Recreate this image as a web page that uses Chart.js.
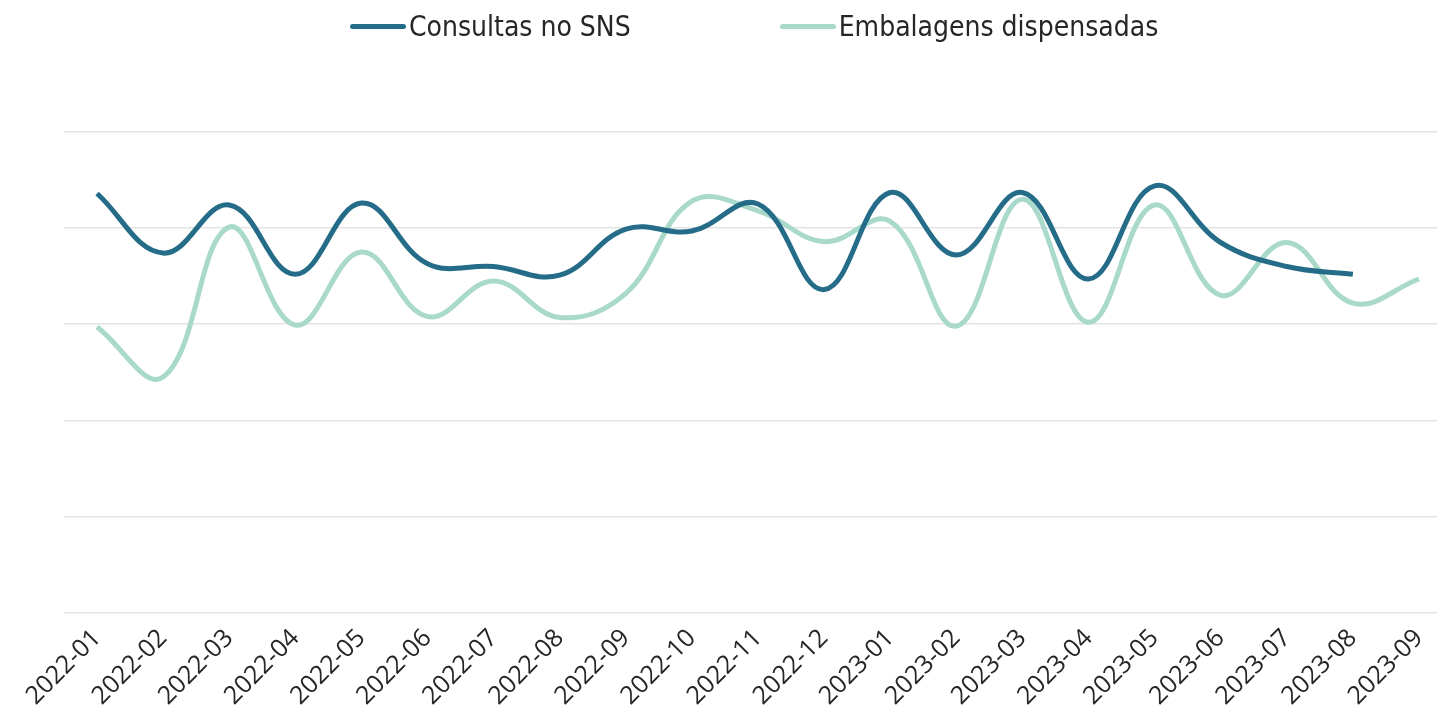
<!DOCTYPE html>
<html>
<head>
<meta charset="utf-8">
<script src="https://cdn.jsdelivr.net/npm/chart.js@4"></script>
<style>
  body { margin: 0; overflow: hidden; background: #fff; }
  #wrap { position: absolute; left: 0; top: 0; width: 1452px; height: 720px; }
  #legend { position: absolute; left: 350px; top: 10px; display: flex; gap: 149px;
            font-family: "Liberation Sans Narrow", "DejaVu Sans Condensed", Lato, sans-serif; font-size: 28px; color: #262626; }
  .item { display: flex; align-items: center; }
  .swatch { width: 56px; height: 5px; border-radius: 3px; margin-right: 3px; }
</style>
</head>
<body>
<div id="wrap"><canvas id="myChart"></canvas></div>
<div id="legend"></div>
<script>
// months on the x axis
const months = ['2022-01', '2022-02', '2022-03', '2022-04', '2022-05', '2022-06', '2022-07',
  '2022-08', '2022-09', '2022-10', '2022-11', '2022-12', '2023-01', '2023-02', '2023-03',
  '2023-04', '2023-05', '2023-06', '2023-07', '2023-08', '2023-09'];

// values (no y labels shown, so grid units 0..5)
const consultas = [4.36, 3.74, 4.24, 3.52, 4.26, 3.63, 3.60, 3.51, 3.99, 3.97, 4.25, 3.36,
  4.37, 3.72, 4.37, 3.47, 4.44, 3.85, 3.60, 3.52, null];
const embalagens = [2.97, 2.45, 4.01, 2.99, 3.75, 3.08, 3.45, 3.07, 3.32, 4.28, 4.18, 3.86,
  4.07, 2.98, 4.30, 3.02, 4.24, 3.30, 3.85, 3.22, 3.47];

const seriesNames = ['Consultas no SNS', 'Embalagens dispensadas'];
const yTicks = [0, 1, 2, 3, 4, 5];

const data = {
  labels: months,
  datasets: [{
    label: seriesNames[0],
    data: consultas,
    borderColor: '#256c88',
    backgroundColor: '#256c88',
    borderWidth: 5,
    tension: 0.4,
    pointRadius: 0,
    spanGaps: false
  }, {
    label: seriesNames[1],
    data: embalagens,
    borderColor: '#a8d9ca',
    backgroundColor: '#a8d9ca',
    borderWidth: 5,
    tension: 0.4,
    pointRadius: 0
  }]
};

const config = {
  type: 'line',
  data: data,
  options: {
    responsive: true,
    maintainAspectRatio: false,
    animation: false,
    layout: { padding: { left: 64, right: 0, top: 132, bottom: 6 } },
    plugins: {
      legend: { display: false },
      tooltip: { enabled: false }
    },
    scales: {
      x: {
        offset: true,
        grid: { display: false },
        border: { display: false },
        ticks: {
          maxRotation: 45,
          minRotation: 45,
          padding: 3,
          color: '#262626',
          font: { family: '"Open Sans", sans-serif', size: 25 }
        }
      },
      y: {
        min: yTicks[0],
        max: yTicks[yTicks.length - 1],
        afterBuildTicks: (axis) => { axis.ticks = yTicks.map(v => ({ value: v })); },
        grid: { color: '#e3e3e3', lineWidth: 1.5, drawTicks: false },
        border: { display: false },
        ticks: { display: false }
      }
    }
  }
};

window.onload = () => {
  const myChart = new Chart(document.getElementById('myChart'), config);
  // html legend built from the chart's own datasets
  const legend = document.getElementById('legend');
  myChart.data.datasets.forEach((ds) => {
    const item = document.createElement('div');
    item.className = 'item';
    const sw = document.createElement('span');
    sw.className = 'swatch';
    sw.style.background = ds.borderColor;
    const txt = document.createElement('span');
    txt.textContent = ds.label;
    item.appendChild(sw);
    item.appendChild(txt);
    legend.appendChild(item);
  });
};
</script>
</body>
</html>
